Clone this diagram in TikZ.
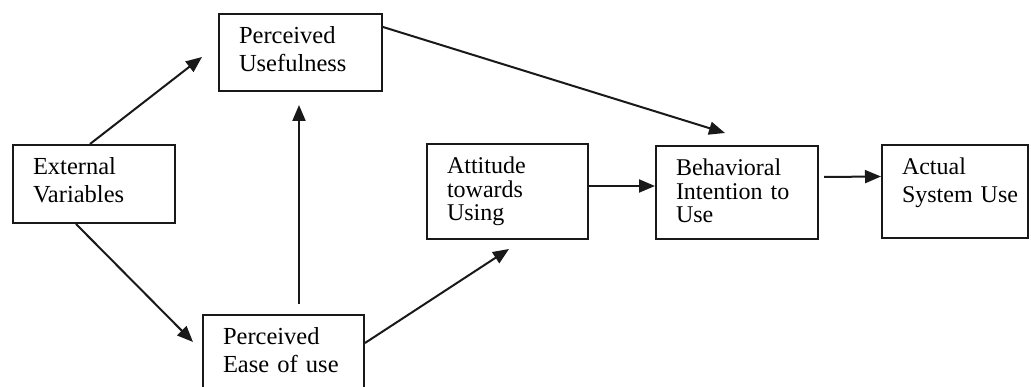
\documentclass[tikz,border=0pt]{standalone}
\usepackage{fontspec}
\setmainfont{Liberation Serif}
\usetikzlibrary{arrows.meta}

\begin{document}
\begin{tikzpicture}[x=1pt, y=1pt,
    box/.style={
        draw=black!90,
        line width=2pt,
        anchor=north west,
        align=left,
        inner xsep=20pt,
        inner ysep=0pt,
        text height=30pt,
        font=\fontsize{24.5}{27.5}\selectfont
    },
    tall/.style={
        box,
        font=\fontsize{24}{23.5}\selectfont
    },
    arr/.style={
        draw=black!90,
        line width=2pt,
        -{Triangle[length=16pt,width=13pt]}
    }
]

\clip (0,0) rectangle (1031,387);

% --- Boxes ---
\node[box, text width=122pt, text depth=48pt] (ev) at (12,243) {External\\Variables};
\node[box, text width=123pt, text depth=47pt] (pu) at (218,374) {Perceived\\Usefulness};
\node[box, text width=121pt, text depth=50pt] (peou) at (202,73) {Perceived\\Ease~of~use};
\node[tall, text width=121pt, text depth=65pt] (att) at (426,244) {Attitude\\towards\\Using};
\node[tall, text width=122pt, text depth=63pt] (bi) at (655,242) {Behavioral\\Intention~to\\Use};
\node[box, text width=106pt, text depth=63pt, font=\fontsize{24}{27.5}\selectfont] (asu) at (881,243) {Actual\\System~Use};

% --- Arrows ---
\draw[arr] ([xshift=78pt]ev.north west) -- ([xshift=-16pt,yshift=-44pt]pu.north west);
\draw[arr] ([xshift=64pt]ev.south west) -- ([xshift=-9pt,yshift=-28pt]peou.north west);
\draw[arr] ([xshift=97pt,yshift=10pt]peou.north west) -- ([xshift=81pt,yshift=-13pt]pu.south west);
\draw[arr] ([yshift=-14pt]pu.north east) -- ([xshift=70pt,yshift=12pt]bi.north west);
\draw[arr] ([yshift=-29pt]peou.north east) -- ([xshift=83pt,yshift=-9pt]att.south west);
\draw[arr] ([yshift=5.5pt]att.east) -- ([yshift=6.5pt]bi.west);
\draw[arr] ([xshift=5pt,yshift=15.5pt]bi.east) -- ([yshift=15pt]asu.west);

\end{tikzpicture}
\end{document}
